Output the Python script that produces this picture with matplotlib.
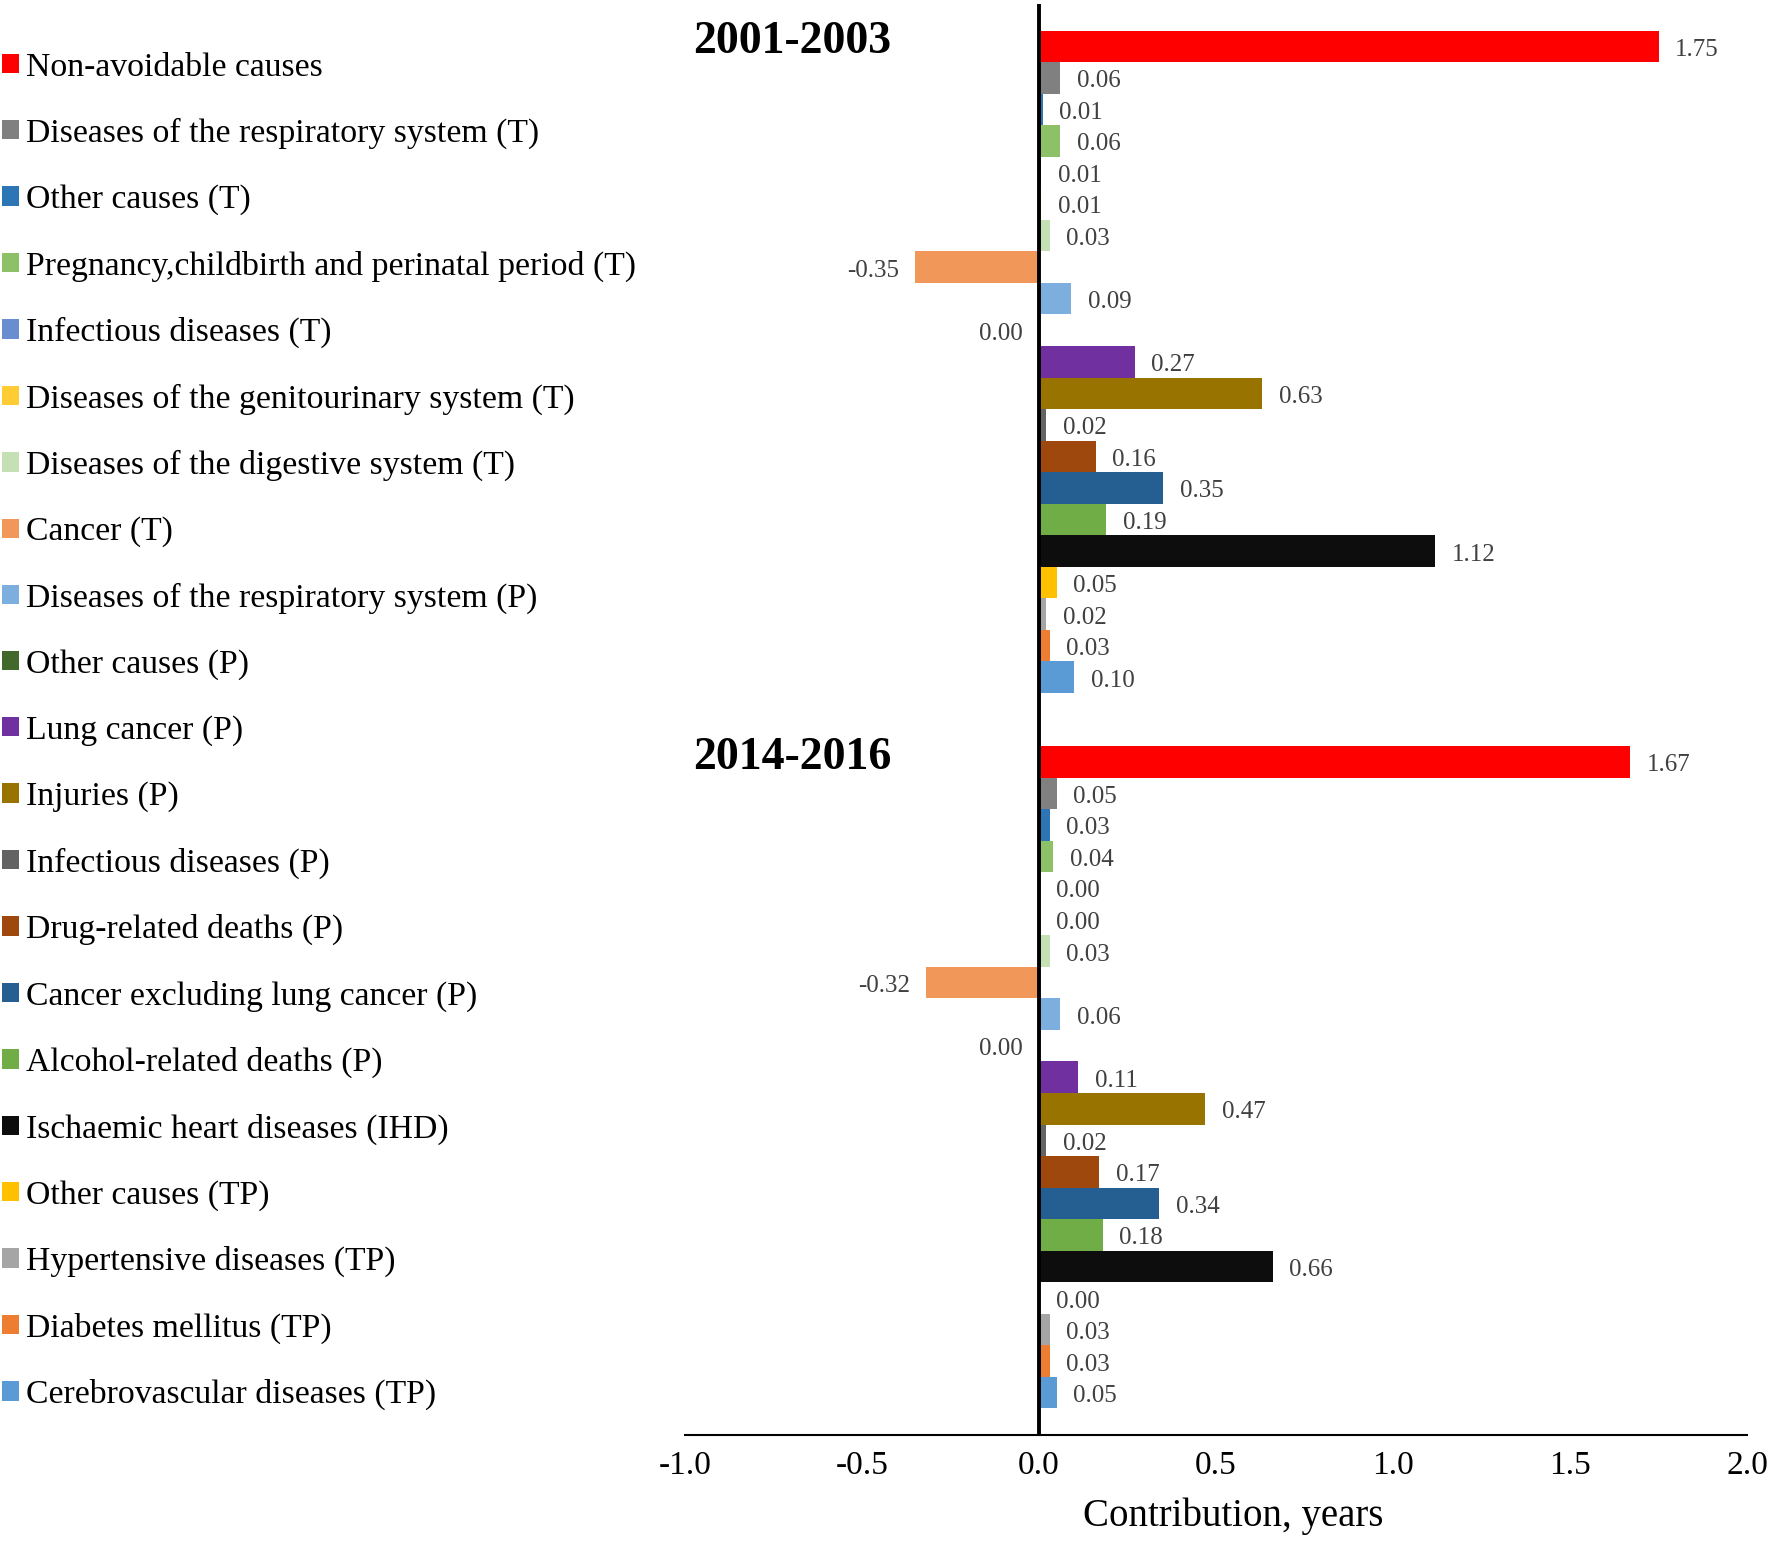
import matplotlib
matplotlib.use("Agg")
import matplotlib.pyplot as plt
from matplotlib.patches import Patch

plt.rcParams['font.family'] = ['Liberation Serif', 'DejaVu Serif']

causes = [
    "Non-avoidable causes",
    "Diseases of the respiratory system (T)",
    "Other causes (T)",
    "Pregnancy,childbirth and perinatal period (T)",
    "Infectious diseases (T)",
    "Diseases of the genitourinary system (T)",
    "Diseases of the digestive system (T)",
    "Cancer (T)",
    "Diseases of the respiratory system (P)",
    "Other causes (P)",
    "Lung cancer (P)",
    "Injuries (P)",
    "Infectious diseases (P)",
    "Drug-related deaths (P)",
    "Cancer excluding lung cancer (P)",
    "Alcohol-related deaths (P)",
    "Ischaemic heart diseases (IHD)",
    "Other causes (TP)",
    "Hypertensive diseases (TP)",
    "Diabetes mellitus (TP)",
    "Cerebrovascular diseases (TP)",
]

colors = [
    "#FF0000", "#808080", "#2E75B6", "#8CC168", "#698ED0", "#FFCD33",
    "#C5E0B4", "#F1975A", "#7CAFDD", "#43682B", "#7030A0", "#997300",
    "#636363", "#9E480E", "#255E91", "#70AD47", "#0D0D0D", "#FFC000",
    "#A5A5A5", "#ED7D31", "#5B9BD5",
]

periods = ["2001-2003", "2014-2016"]

values_2001_2003 = [1.75, 0.06, 0.01, 0.06, 0.006, 0.006, 0.03, -0.35, 0.09, -0.001,
                    0.27, 0.63, 0.02, 0.16, 0.35, 0.19, 1.12, 0.05, 0.02, 0.03, 0.10]
values_2014_2016 = [1.67, 0.05, 0.03, 0.04, 0.0, 0.0, 0.03, -0.32, 0.06, -0.001,
                    0.11, 0.47, 0.02, 0.17, 0.34, 0.18, 0.66, 0.0, 0.03, 0.03, 0.05]

xticks = [-1.0, -0.5, 0.0, 0.5, 1.0, 1.5, 2.0]

# ---- layout ----
W, H = 1770, 1541
fig = plt.figure(figsize=(W / 100, H / 100), dpi=100)
ax_left, ax_right, ax_top, ax_bot = 685, 1747, 4, 1435
ax = fig.add_axes([ax_left / W, (H - ax_bot) / H, (ax_right - ax_left) / W, (ax_bot - ax_top) / H])

group_step = 22.68
n = len(causes)
for g, vals in enumerate([values_2001_2003, values_2014_2016]):
    base = g * group_step
    ys = [base + i for i in range(n)]
    ax.barh(ys, vals, height=1.0, color=colors, linewidth=0)
    for y, v in zip(ys, vals):
        txt = "0.00" if abs(v) < 0.005 else f"{v:.2f}"
        if v < 0:
            ax.annotate(txt, xy=(v, y), xytext=(-11.5, -2.5), textcoords='offset points',
                        ha='right', va='center', fontsize=18, color='#404040')
        else:
            ax.annotate(txt, xy=(v, y), xytext=(12, -2.5), textcoords='offset points',
                        ha='left', va='center', fontsize=18, color='#404040')
    ax.text(-0.976, base - 0.12, periods[g], ha='left', va='center',
            fontsize=33, fontweight='bold', color='black')

ax.set_ylim(group_step + n - 1 + 0.5 + 0.84, -0.5 - 0.84)
ax.set_xlim(-1.0, 2.0)
ax.set_xticks(xticks)
ax.set_xticklabels([f"{t:.1f}" for t in xticks])
ax.tick_params(axis='x', length=0, labelsize=24, pad=11)
ax.set_yticks([])
for s in ['left', 'right', 'top']:
    ax.spines[s].set_visible(False)
ax.spines['bottom'].set_linewidth(1.5)
ax.axvline(0, color='black', linewidth=2.8, zorder=5)

ax.set_xlabel("Contribution, years", fontsize=28)
ax.xaxis.label.set_va('center')
ax.xaxis.set_label_coords((1233 - ax_left) / (ax_right - ax_left), -(1516 - ax_bot) / (ax_bot - ax_top))

handles = [Patch(facecolor=c, edgecolor='none') for c in colors]
leg = fig.legend(handles, causes, loc='upper left',
                 bbox_to_anchor=(2 / W, 1 - 52 / H), frameon=False,
                 fontsize=24.3, handlelength=0.5, handleheight=0.5,
                 handletextpad=0.2, labelspacing=1.045, borderpad=0, borderaxespad=0)

fig.savefig("out.png", dpi=100)
